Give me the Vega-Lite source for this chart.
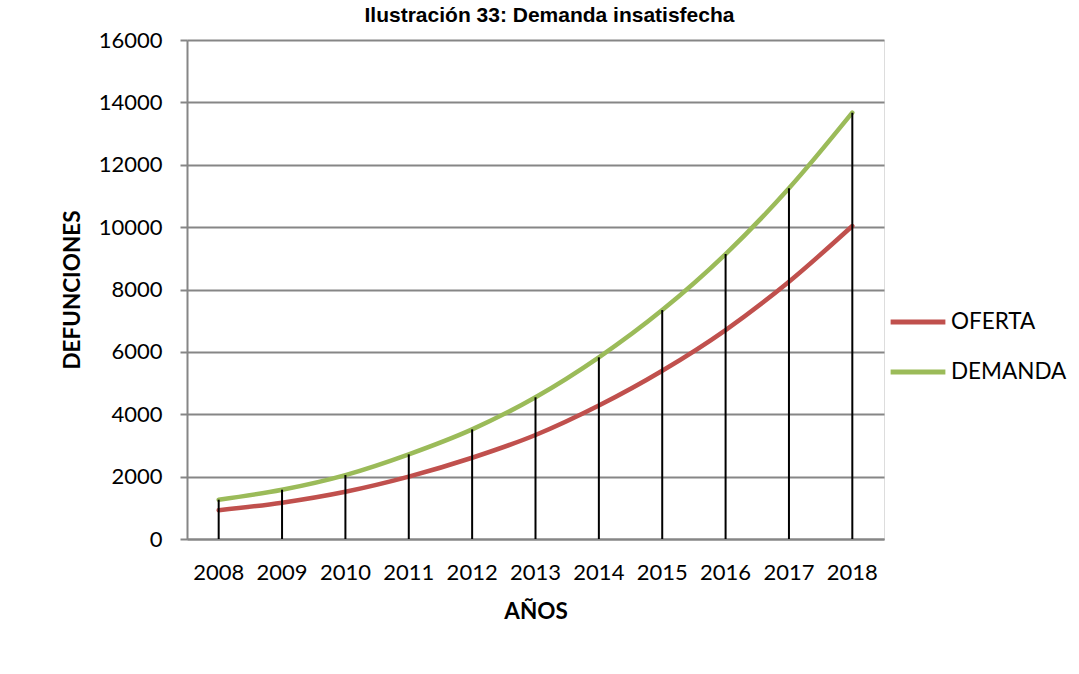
{
  "$schema": "https://vega.github.io/schema/vega-lite/v6.json",
  "autosize": {"type": "none"},
  "width": 697,
  "height": 499,
  "padding": {"left": 187, "top": 40, "right": 195, "bottom": 135},
  "background": "white",
  "title": {
    "text": "Ilustración 33: Demanda insatisfecha",
    "font": "Liberation Sans",
    "fontSize": 21,
    "fontWeight": "bold",
    "color": "#000000",
    "anchor": "middle",
    "frame": "group",
    "offset": 3,
    "dx": 14
  },
  "data": {
    "values": [
      {"Año": "2008", "OFERTA": 920, "DEMANDA": 1260},
      {"Año": "2009", "OFERTA": 1165, "DEMANDA": 1580},
      {"Año": "2010", "OFERTA": 1515, "DEMANDA": 2050},
      {"Año": "2011", "OFERTA": 2000, "DEMANDA": 2715},
      {"Año": "2012", "OFERTA": 2605, "DEMANDA": 3515},
      {"Año": "2013", "OFERTA": 3335, "DEMANDA": 4545},
      {"Año": "2014", "OFERTA": 4280, "DEMANDA": 5825},
      {"Año": "2015", "OFERTA": 5395, "DEMANDA": 7340},
      {"Año": "2016", "OFERTA": 6700, "DEMANDA": 9135},
      {"Año": "2017", "OFERTA": 8250, "DEMANDA": 11245},
      {"Año": "2018", "OFERTA": 10035, "DEMANDA": 13670}
    ]
  },
  "encoding": {
    "x": {
      "field": "Año",
      "type": "ordinal",
      "scale": {"paddingInner": 0, "paddingOuter": 0},
      "axis": {
        "title": "AÑOS",
        "labelAngle": 0,
        "labelFont": "Lato",
        "labelFontSize": 22,
        "labelColor": "#000000",
        "labelPadding": 23,
        "ticks": false,
        "grid": false,
        "domainColor": "#868686",
        "domainWidth": 2,
        "titleFont": "Lato",
        "titleFontSize": 22.5,
        "titleFontWeight": "bold",
        "titleColor": "#000000",
        "titlePadding": 17
      }
    }
  },
  "layer": [
    {
      "transform": [{"fold": ["OFERTA", "DEMANDA"], "as": ["Serie", "Valor"]}],
      "mark": {"type": "line", "strokeWidth": 4.5, "interpolate": "monotone", "strokeCap": "round"},
      "encoding": {
        "y": {
          "field": "Valor",
          "type": "quantitative",
          "scale": {"domain": [0, 16000], "nice": false},
          "axis": {
            "title": "DEFUNCIONES",
            "values": [0, 2000, 4000, 6000, 8000, 10000, 12000, 14000, 16000],
            "format": "d",
            "labelFont": "Lato",
            "labelFontSize": 22,
            "labelColor": "#000000",
            "labelPadding": 18,
            "tickSize": 7,
            "tickColor": "#868686",
            "tickWidth": 2,
            "domainColor": "#868686",
            "domainWidth": 2,
            "gridColor": "#868686",
            "gridWidth": 2,
            "titleFont": "Lato",
            "titleFontSize": 22.5,
            "titleFontWeight": "bold",
            "titleColor": "#000000",
            "titlePadding": 14
          }
        },
        "color": {
          "field": "Serie",
          "type": "nominal",
          "scale": {"domain": ["OFERTA", "DEMANDA"], "range": ["#C0504D", "#9BBB59"]},
          "legend": {
            "title": null,
            "orient": "none",
            "legendX": 701,
            "legendY": 252,
            "symbolType": "stroke",
            "symbolSize": 3000,
            "symbolStrokeWidth": 5,
            "labelFont": "Lato",
            "labelFontSize": 22.5,
            "labelColor": "#000000",
            "labelOffset": 3,
            "rowPadding": 8
          }
        }
      }
    },
    {
      "mark": {"type": "rule", "color": "#000000", "strokeWidth": 2},
      "encoding": {
        "y": {"field": "DEMANDA", "type": "quantitative"},
        "y2": {"datum": 0}
      }
    }
  ]
}
